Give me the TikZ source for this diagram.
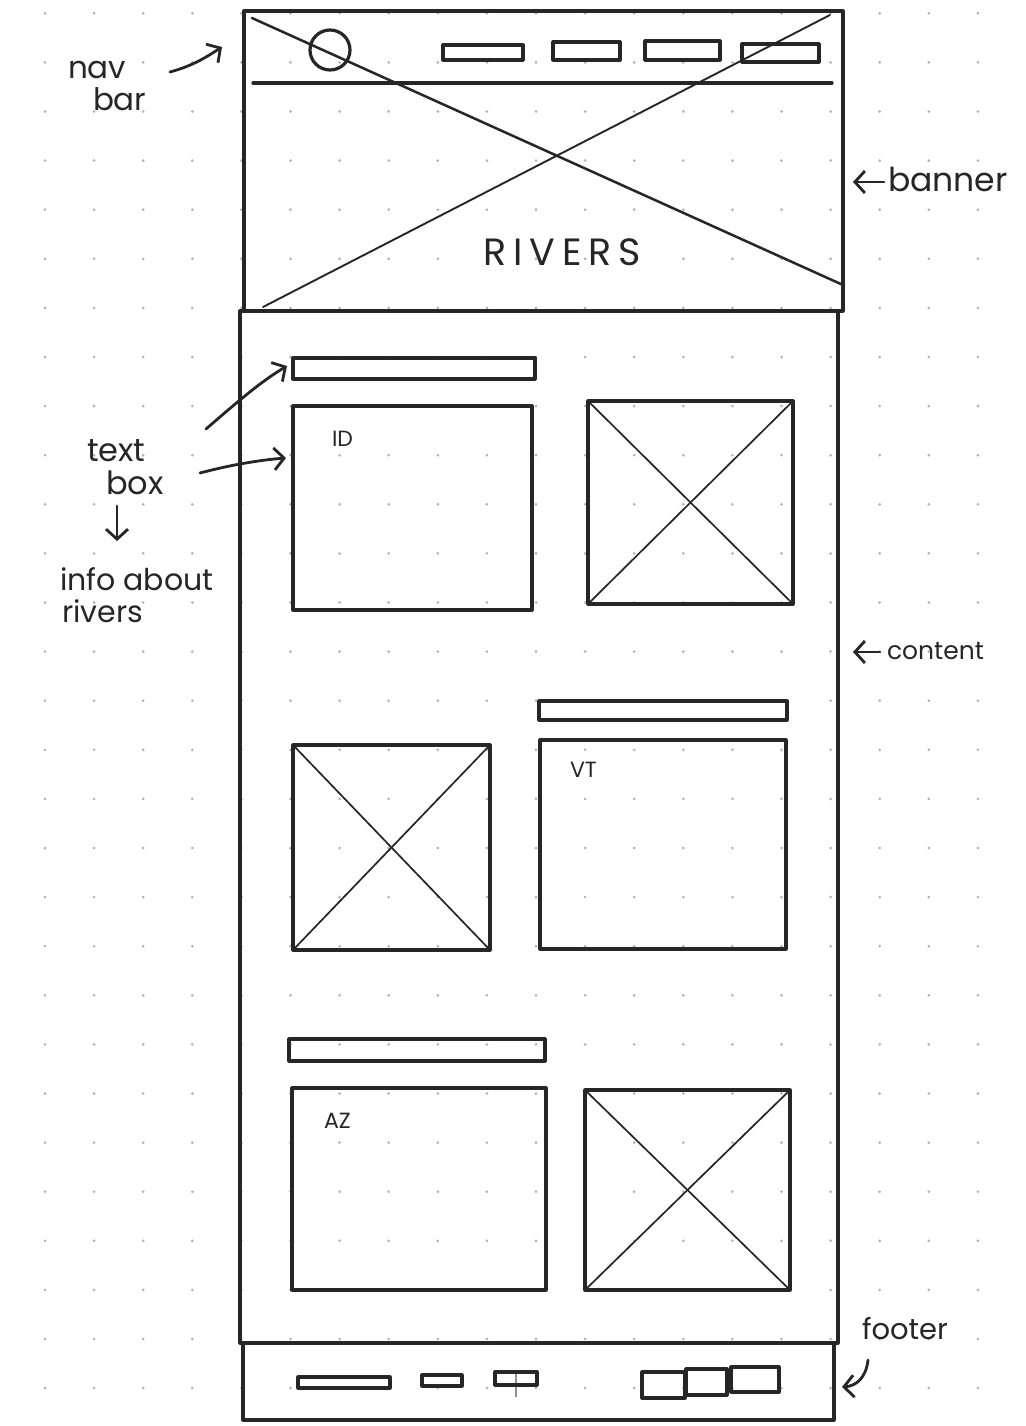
\documentclass[tikz,border=0pt]{standalone}
\usepackage{fontspec}
\setmainfont{Poppins}
\usetikzlibrary{arrows.meta,calc}
\definecolor{inkc}{HTML}{262626}
\definecolor{dotc}{HTML}{B4B4B4}
\tikzset{
  ink/.style={draw=inkc, line width=3.2pt, line cap=round, line join=round},
  thinink/.style={draw=inkc, line width=1.7pt, line cap=round},
  boxshape/.style={ink, rectangle, inner sep=0pt, outer sep=0pt, anchor=north west},
  arr/.style={draw=inkc, line width=2.8pt, line cap=round, line join=round,
    -{Straight Barb[length=10pt,width=22pt,line width=2.8pt]}},
  lbl/.style={inner sep=0pt, outer sep=0pt, text=inkc, anchor=base west},
}
\begin{document}
\begin{tikzpicture}[x=1pt,y=-1pt]
\useasboundingbox[fill=white] (0,0) rectangle (1025,1426);
% dot grid
\foreach \i in {0,...,19}{
  \foreach \j in {0,...,28}{
    \fill[dotc] ({45+49.1*\i},{13.3+49.1*\j}) circle (1.5);
  }
}
% page sections
\node[boxshape, minimum width=599pt, minimum height=300pt] (banner) at (244,11) {};
\node[boxshape, minimum width=598pt, minimum height=1032pt] (content) at (240,311) {};
\node[boxshape, minimum width=591pt, minimum height=77pt] (footer) at (243,1343) {};
% nav bar inside banner
\draw[ink] (253,83) -- (832,83);
\draw[ink] (330,50) circle (20);
\node[boxshape, minimum width=80pt, minimum height=15pt] (nav1) at (443,45) {};
\node[boxshape, minimum width=67pt, minimum height=18pt] (nav2) at (553,42) {};
\node[boxshape, minimum width=75pt, minimum height=19pt] (nav3) at (645,41) {};
\node[boxshape, minimum width=77pt, minimum height=18pt] (nav4) at (742,44) {};
% banner cross
\draw[ink, line width=2.5pt] (252,18) -- (843,285);
\draw[thinink, line width=1.9pt] (830,15) -- (263,307);
\node[inner sep=0pt, text=inkc, font=\fontsize{38}{38}\selectfont\addfontfeature{LetterSpace=18}] (title) at (562,252) {RIVERS};
% row 1
\node[boxshape, minimum width=242pt, minimum height=21pt] (bar1) at (293,358) {};
\node[boxshape, minimum width=239pt, minimum height=204pt] (tb1) at (293,406) {};
\node[lbl, font=\fontsize{22}{22}\selectfont] (id) at (332,446) {ID};
\node[boxshape, minimum width=205pt, minimum height=203pt] (img1) at (588,401) {};
\draw[thinink] (img1.north west) -- (img1.south east);
\draw[thinink] (img1.north east) -- (img1.south west);
% row 2
\node[boxshape, minimum width=248pt, minimum height=19pt] (bar2) at (539,701) {};
\node[boxshape, minimum width=197pt, minimum height=205pt] (img2) at (293,745) {};
\draw[thinink] (img2.north west) -- (img2.south east);
\draw[thinink] (img2.north east) -- (img2.south west);
\node[boxshape, minimum width=246pt, minimum height=209pt] (tb2) at (540,740) {};
\node[lbl, font=\fontsize{22}{22}\selectfont] (vt) at (570,777) {VT};
% row 3
\node[boxshape, minimum width=256pt, minimum height=22pt] (bar3) at (289,1039) {};
\node[boxshape, minimum width=254pt, minimum height=202pt] (tb3) at (292,1088) {};
\node[lbl, font=\fontsize{22}{22}\selectfont] (az) at (324,1128) {AZ};
\node[boxshape, minimum width=205pt, minimum height=200pt] (img3) at (585,1090) {};
\draw[thinink] (img3.north west) -- (img3.south east);
\draw[thinink] (img3.north east) -- (img3.south west);
% footer items
\node[boxshape, minimum width=92pt, minimum height=11pt] (f1) at (298,1377) {};
\node[boxshape, minimum width=40pt, minimum height=11pt] (f2) at (422,1375) {};
\draw[draw=dotc!80!black, line width=1.2pt] (516,1370) -- (516,1397);
\node[boxshape, minimum width=42pt, minimum height=13pt] (f3) at (495,1372) {};
\node[boxshape, minimum width=43pt, minimum height=26pt] (f4) at (642,1372) {};
\node[boxshape, minimum width=41pt, minimum height=26pt] (f5) at (686,1369) {};
\node[boxshape, minimum width=48pt, minimum height=25pt] (f6) at (731,1367) {};
% labels
\node[lbl, font=\fontsize{31}{31}\selectfont] (navl1) at (68,79) {nav};
\node[lbl, font=\fontsize{31}{31}\selectfont] (navl2) at (93,111) {bar};
\node[lbl, font=\fontsize{33}{33}\selectfont] (bannerl) at (888,191) {banner};
\node[lbl, font=\fontsize{25}{25}\selectfont] (contentl) at (887,659) {content};
\node[lbl, font=\fontsize{32}{32}\selectfont] (textl1) at (87,461) {text};
\node[lbl, font=\fontsize{32}{32}\selectfont] (textl2) at (106,494) {box};
\node[lbl, font=\fontsize{30}{30}\selectfont] (infol1) at (60,590) {info about};
\node[lbl, font=\fontsize{30}{30}\selectfont] (infol2) at (62,622) {rivers};
\node[lbl, font=\fontsize{29}{29}\selectfont] (footerl) at (862,1339) {footer};
% arrow end points
\coordinate (navS) at (170,72);
\coordinate (navT) at (222,47);
\coordinate (banS) at (884,182);
\coordinate (banT) at (853,182);
\coordinate (conS) at (880,652);
\coordinate (conT) at (853,652);
\coordinate (t1S) at (206,429);
\coordinate (t1T) at (287,366);
\coordinate (t2S) at (200,473);
\coordinate (t2T) at (286,458);
\coordinate (dS) at (117,506);
\coordinate (dT) at (117,541);
\coordinate (fS) at (868,1360);
\coordinate (fT) at (842,1387);
% arrows
\draw[arr] (navS) .. controls (192,66) and (205,58) .. (navT);
\draw[arr] (banS) -- (banT);
\draw[arr] (conS) -- (conT);
\draw[arr] (t1S) .. controls (235,404) and (260,382) .. (t1T);
\draw[arr] (t2S) .. controls (230,465) and (260,460) .. (t2T);
\draw[arr] (dS) -- (dT);
\draw[arr] (fS) .. controls (866,1378) and (856,1386) .. (fT);
\end{tikzpicture}
\end{document}
